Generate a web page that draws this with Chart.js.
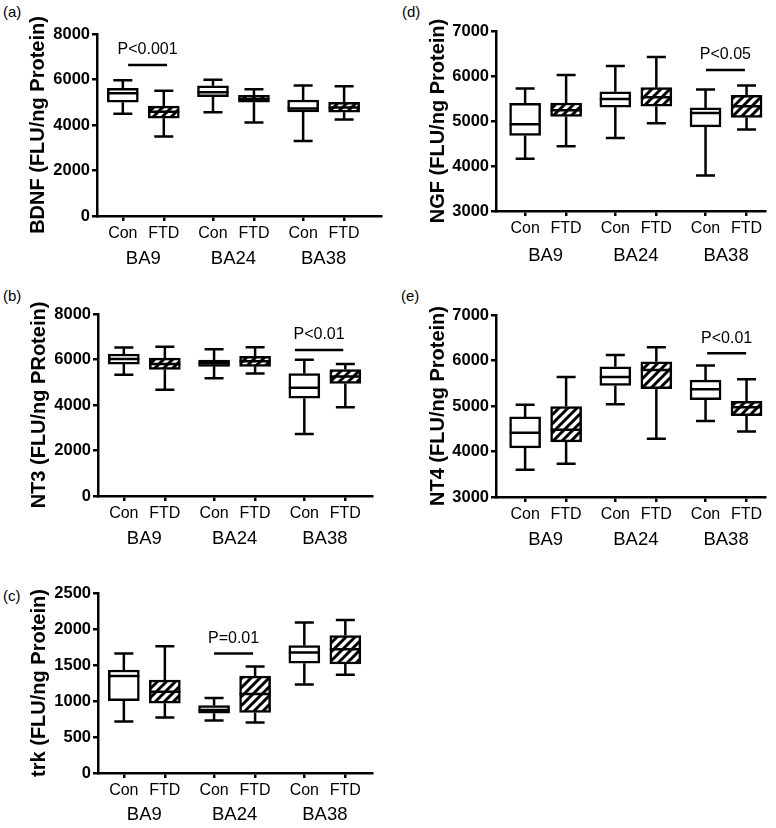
<!DOCTYPE html>
<html>
<head>
<meta charset="utf-8">
<script src="https://cdn.jsdelivr.net/npm/chart.js@4.4.1/dist/chart.umd.min.js"></script>
<style>
  body { margin: 0; background: #fff; width: 776px; height: 828px; overflow: hidden; position: relative;
         font-family: 'Liberation Sans', Arial, sans-serif; }
  canvas { position: absolute; }
  .tag { position: absolute; font-size: 15px; line-height: 1; color: #000; }
</style>
</head>
<body>
<div class="tag" style="left:3px;top:4px">(a)</div>
<div class="tag" style="left:402px;top:4px">(d)</div>
<div class="tag" style="left:3px;top:288px">(b)</div>
<div class="tag" style="left:401px;top:288px">(e)</div>
<div class="tag" style="left:3px;top:588px">(c)</div>

<canvas id="cA" width="388" height="280" style="left:0;top:0"></canvas>
<canvas id="cD" width="386" height="280" style="left:390px;top:0"></canvas>
<canvas id="cB" width="388" height="280" style="left:0;top:280px"></canvas>
<canvas id="cE" width="386" height="280" style="left:390px;top:280px"></canvas>
<canvas id="cC" width="388" height="268" style="left:0;top:560px"></canvas>

<script>
// categories
const groups = ['Con', 'FTD', 'Con', 'FTD', 'Con', 'FTD'];
const regions = ['BA9', 'BA24', 'BA38'];
const xPos = [1, 2, 3.2, 4.2, 5.4, 6.4];
const regionPos = [1.5, 3.7, 5.9];

// one row per box: min, q1, median, q3, max
// order: Con BA9, FTD BA9, Con BA24, FTD BA24, Con BA38, FTD BA38
const bdnf = [
  [4500, 5000, 5400, 5610, 5970],
  [3490, 4300, 4580, 4830, 5510],
  [4560, 5250, 5440, 5720, 5990],
  [4110, 5000, 5130, 5300, 5570],
  [3300, 4570, 4720, 5100, 5740],
  [4240, 4560, 4770, 5000, 5700]
];
const nt3 = [
  [5330, 5800, 6020, 6240, 6530],
  [4670, 5560, 5800, 6060, 6560],
  [5180, 5700, 5840, 5980, 6450],
  [5380, 5700, 5920, 6140, 6540],
  [2720, 4300, 4760, 5380, 5990],
  [3900, 4950, 5250, 5560, 5800]
];
const trk = [
  [715, 1006, 1347, 1430, 1661],
  [770, 969, 1130, 1292, 1760],
  [729, 830, 876, 937, 1043],
  [701, 840, 1098, 1345, 1480],
  [1230, 1525, 1675, 1770, 2090],
  [1365, 1514, 1718, 1910, 2125]
];
const ngf = [
  [4160, 4680, 4930, 5390, 5720],
  [4440, 5100, 5240, 5400, 6020],
  [4620, 5310, 5490, 5650, 6220],
  [4950, 5330, 5530, 5740, 6420],
  [3790, 4870, 5180, 5290, 5700],
  [4810, 5080, 5330, 5570, 5790]
];
const nt4 = [
  [3600, 4080, 4410, 4760, 5030],
  [3730, 4210, 4480, 4990, 5640],
  [5040, 5450, 5640, 5860, 6120],
  [4280, 5380, 5790, 5970, 6290],
  [4670, 5140, 5370, 5570, 5890],
  [4440, 4790, 4970, 5100, 5590]
];

// significance bars: [x start, x end], y level, label
const bdnfSig = [[1.13, 2.08], 6640, 'P<0.001'];
const nt3Sig = [[5.17, 6.35], 6420, 'P<0.01'];
const trkSig = [[3.2, 4.15], 1660, 'P=0.01'];
const ngfSig = [[5.41, 6.36], 6135, 'P<0.05'];
const nt4Sig = [[5.44, 6.39], 6158, 'P<0.01'];

const FONT = "'Liberation Sans', Arial, sans-serif";
Chart.defaults.font.family = FONT;
Chart.defaults.color = '#000';

// diagonal hatch for FTD boxes
function makeHatch() {
  const c = document.createElement('canvas');
  c.width = 9; c.height = 9;
  const g = c.getContext('2d');
  g.fillStyle = '#fff';
  g.fillRect(0, 0, 9, 9);
  g.strokeStyle = '#000';
  g.lineWidth = 3;
  g.beginPath();
  g.moveTo(-2, 11); g.lineTo(11, -2);
  g.moveTo(-2, 2); g.lineTo(2, -2);
  g.moveTo(7, 11); g.lineTo(11, 7);
  g.stroke();
  return g.createPattern(c, 'repeat');
}
const hatch = makeHatch();

// whiskers, medians and the p-value text
const whiskerPlugin = {
  id: 'whiskers',
  afterDatasetsDraw(chart, args, opts) {
    const rows = opts.rows;
    if (!rows) return;
    const ctx = chart.ctx;
    const xs = chart.scales.x, ys = chart.scales.y;
    const meta = chart.getDatasetMeta(0);
    ctx.save();
    ctx.strokeStyle = '#000';
    ctx.lineWidth = 2.5;
    rows.forEach((r, i) => {
      const cx = xs.getPixelForValue(xPos[i]);
      const half = meta.data[i].width / 2;
      const cap = 9.5;
      const [lo, q1, med, q3, hi] = r.map(v => ys.getPixelForValue(v));
      ctx.beginPath();
      ctx.moveTo(cx, q3); ctx.lineTo(cx, hi);
      ctx.moveTo(cx - cap, hi); ctx.lineTo(cx + cap, hi);
      ctx.moveTo(cx, q1); ctx.lineTo(cx, lo);
      ctx.moveTo(cx - cap, lo); ctx.lineTo(cx + cap, lo);
      ctx.moveTo(cx - half, med); ctx.lineTo(cx + half, med);
      ctx.stroke();
    });
    const [sx, sy, txt] = opts.sig;
    const mx = (xs.getPixelForValue(sx[0]) + xs.getPixelForValue(sx[1])) / 2;
    ctx.fillStyle = '#000';
    ctx.font = '16px ' + FONT;
    ctx.textAlign = 'center';
    ctx.textBaseline = 'middle';
    ctx.fillText(txt, mx, ys.getPixelForValue(sy) - 15);
    ctx.restore();
  }
};

function boxChart(id, rows, sig, o) {
  const boxData = rows.map((r, i) => ({ x: xPos[i], y: [r[1], r[3]] }));
  const fills = groups.map(g => g === 'FTD' ? hatch : '#fff');
  const ax2Pad = o.regionGap - 28 - 11.1;
  return new Chart(document.getElementById(id), {
    type: 'bar',
    data: {
      datasets: [
        {
          type: 'bar',
          data: boxData,
          backgroundColor: fills,
          borderColor: '#000',
          borderWidth: 2.5,
          borderSkipped: false,
          barThickness: 31,
          grouped: false
        },
        {
          type: 'line',
          data: sig[0].map(v => ({ x: v, y: sig[1] })),
          borderColor: '#000',
          borderWidth: 2.5,
          pointRadius: 0,
          fill: false
        }
      ]
    },
    options: {
      responsive: false,
      animation: false,
      events: [],
      layout: { padding: { top: o.top, right: o.right, left: 0, bottom: 0 } },
      plugins: {
        legend: { display: false },
        tooltip: { enabled: false },
        whiskers: { rows: rows, sig: sig }
      },
      scales: {
        x: {
          type: 'linear',
          position: 'bottom',
          weight: 1,
          offset: false,
          min: o.xMin,
          max: o.xMax,
          afterBuildTicks: s => { s.ticks = xPos.map(v => ({ value: v })); },
          ticks: {
            callback: (v, i) => groups[i],
            color: '#000',
            font: { size: 16 },
            padding: 3.4,
            maxRotation: 0,
            autoSkip: false
          },
          grid: { display: true, offset: false, drawOnChartArea: false, drawTicks: true, tickLength: 5, color: '#000', lineWidth: 2.5 },
          border: { display: true, color: '#000', width: 2.5 },
          afterFit: s => { s.height = 28; }
        },
        x2: {
          type: 'linear',
          position: 'bottom',
          weight: 2,
          offset: false,
          min: o.xMin,
          max: o.xMax,
          afterBuildTicks: s => { s.ticks = regionPos.map(v => ({ value: v })); },
          ticks: {
            callback: (v, i) => regions[i],
            color: '#000',
            font: { size: 18.5 },
            padding: ax2Pad,
            maxRotation: 0,
            autoSkip: false
          },
          grid: { display: false, offset: false, drawTicks: false },
          border: { display: false },
          afterFit: s => { s.height = o.ax2H; }
        },
        y: {
          min: o.yMin,
          max: o.yMax,
          ticks: {
            stepSize: o.step,
            callback: v => String(v),
            color: '#000',
            font: { size: 16.5, weight: 'bold' },
            padding: 2
          },
          grid: { display: true, drawOnChartArea: false, drawTicks: true, tickLength: 5, color: '#000', lineWidth: 2.5 },
          border: { display: true, color: '#000', width: 2.5 },
          title: {
            display: true,
            text: o.title,
            color: '#000',
            font: { size: 20, weight: 'bold' },
            padding: { top: o.titlePad, bottom: 0 }
          },
          afterFit: s => { s.width = o.yW; }
        }
      }
    },
    plugins: [whiskerPlugin]
  });
}

boxChart('cA', bdnf, bdnfSig, {
  title: 'BDNF (FLU/ng Protein)', yMin: 0, yMax: 8000, step: 2000,
  top: 34, right: 7, yW: 97, titlePad: 26, xMin: 0.37, xMax: 7.30, ax2H: 36, regionGap: 42.5
});
boxChart('cB', nt3, nt3Sig, {
  title: 'NT3 (FLU/ng PRotein)', yMin: 0, yMax: 8000, step: 2000,
  top: 34, right: 16, yW: 98, titlePad: 27, xMin: 0.37, xMax: 7.05, ax2H: 36, regionGap: 42.5
});
boxChart('cC', trk, trkSig, {
  title: 'trk (FLU/ng Protein)', yMin: 0, yMax: 2500, step: 500,
  top: 33, right: 16, yW: 98, titlePad: 27, xMin: 0.37, xMax: 7.05, ax2H: 27, regionGap: 42
});
boxChart('cD', ngf, ngfSig, {
  title: 'NGF (FLU/ng Protein)', yMin: 3000, yMax: 7000, step: 1000,
  top: 31, right: 11, yW: 106, titlePad: 36, xMin: 0.29, xMax: 6.85, ax2H: 41, regionGap: 45
});
boxChart('cE', nt4, nt4Sig, {
  title: 'NT4 (FLU/ng Protein)', yMin: 3000, yMax: 7000, step: 1000,
  top: 35, right: 11, yW: 106, titlePad: 36, xMin: 0.29, xMax: 6.85, ax2H: 35, regionGap: 43
});
</script>
</body>
</html>
